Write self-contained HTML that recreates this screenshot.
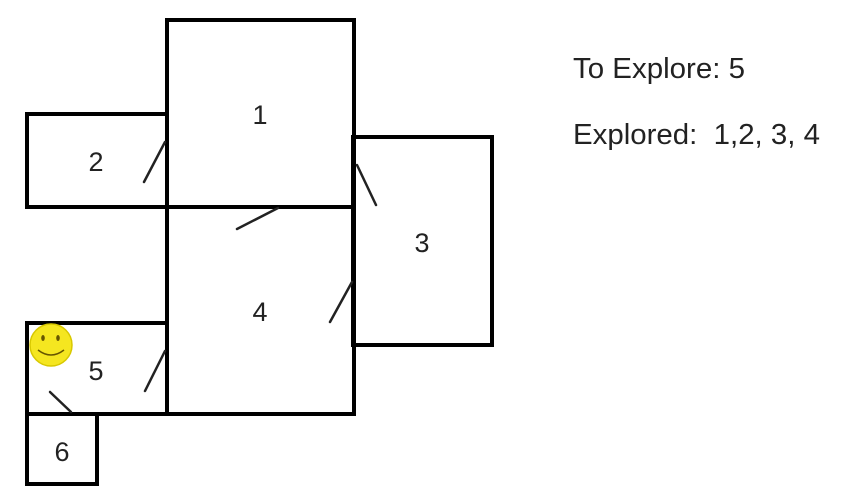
<!DOCTYPE html>
<html><head><meta charset="utf-8"><style>
html,body{margin:0;padding:0;background:#fff;}
svg{display:block;}
text{font-family:"Liberation Sans",sans-serif;fill:#222;}
</style></head><body>
<svg width="856" height="502" viewBox="0 0 856 502">
<g fill="none" stroke="#000" stroke-width="4" stroke-linejoin="miter">
<rect x="167" y="20" width="187" height="187"/>
<rect x="27" y="114" width="140" height="93"/>
<rect x="353" y="137" width="139" height="208"/>
<rect x="167" y="207" width="187" height="207"/>
<rect x="27" y="323" width="140" height="91"/>
<rect x="27" y="414" width="70" height="70"/>
</g>
<g stroke="#222" stroke-width="2.5" stroke-linecap="round">
<line x1="144" y1="182" x2="165" y2="142"/>
<line x1="237" y1="229" x2="278" y2="208"/>
<line x1="357" y1="165" x2="376" y2="205"/>
<line x1="330" y1="322" x2="352" y2="282"/>
<line x1="145" y1="391" x2="165" y2="351"/>
<line x1="50" y1="392" x2="71" y2="412"/>
</g>
<g font-size="27" text-anchor="middle">
<text x="260" y="124">1</text>
<text x="96" y="171">2</text>
<text x="422" y="252">3</text>
<text x="260" y="321">4</text>
<text x="96" y="380">5</text>
<text x="62" y="461">6</text>
</g>
<g>
<circle cx="51" cy="345" r="21" fill="#f5e620" stroke="#d8c800" stroke-width="1.5"/>
<ellipse cx="43" cy="338" rx="1.8" ry="3" fill="#665500"/>
<ellipse cx="58" cy="338" rx="1.8" ry="3" fill="#665500"/>
<path d="M38 350 Q51 360 64 350" fill="none" stroke="#665500" stroke-width="1.5"/>
</g>
<text x="573" y="78" font-size="29" textLength="172" lengthAdjust="spacingAndGlyphs">To Explore: 5</text>
<text x="573" y="144" font-size="29" textLength="247" lengthAdjust="spacingAndGlyphs" xml:space="preserve">Explored:  1,2, 3, 4</text>
</svg>
</body></html>
